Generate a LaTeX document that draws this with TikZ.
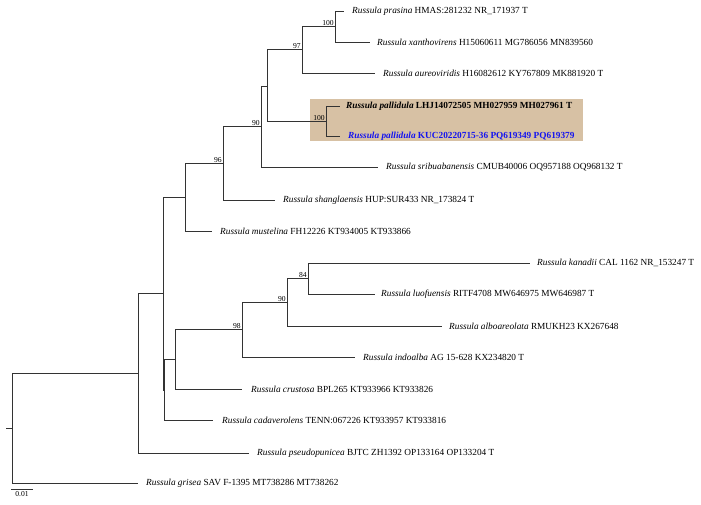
\documentclass[tikz,border=0pt]{standalone}
\usepackage{fontspec}
\setmainfont{Liberation Serif}
\usetikzlibrary{positioning}
\definecolor{pallbox}{RGB}{215,193,164}
\definecolor{kucblue}{RGB}{20,20,240}

\begin{document}
\begin{tikzpicture}[x=1pt,y=-1pt]
   \tikzstyle{branch}=[draw=black!80, line width=0.8pt]
   \tikzstyle{taxon}=[inner sep=0pt, font=\fontsize{9.3}{11}\selectfont]
   \tikzstyle{boot}=[inner sep=0.6pt, font=\fontsize{7.6}{9}\selectfont]

\useasboundingbox (0,0) rectangle (701,504);
\fill[pallbox] (310,99) rectangle (583,141);

% internal nodes
\coordinate (stub) at (6,428.5);
\coordinate (root) at (12,428.5);
\coordinate (nC) at (138,373);
\coordinate (nB) at (163,293.5);
\coordinate (nD) at (185,197);
\coordinate (n96) at (223,163);
\coordinate (n90) at (261,126.5);
\coordinate (nF) at (267,86);
\coordinate (n97) at (302,49);
\coordinate (nX) at (335,26);
\coordinate (nP) at (326,121);
\coordinate (nE) at (164.5,390);
\coordinate (nG) at (175,359.5);
\coordinate (n98) at (242,329.5);
\coordinate (n90b) at (287,302);
\coordinate (n84) at (308,278.5);

% tips
\coordinate (prasina) at (344,11);
\coordinate (xantho) at (370,42);
\coordinate (aureo) at (375,73);
\coordinate (pallLHJ) at (340,106);
\coordinate (pallKUC) at (340,136);
\coordinate (sribu) at (378,167);
\coordinate (shangla) at (275,200);
\coordinate (mustel) at (212,231);
\coordinate (kanadii) at (530,263);
\coordinate (luofu) at (375,294);
\coordinate (alboar) at (442,326);
\coordinate (indoal) at (355,357);
\coordinate (crusto) at (242,389);
\coordinate (cadave) at (213,420);
\coordinate (pseudo) at (249,453);
\coordinate (grisea) at (138,483.5);

\draw[branch] (stub) -- (root);
\draw[branch] (root) |- (nC) (root) |- (grisea);
\draw[branch] (nC) |- (nB) (nC) |- (pseudo);
\draw[branch] (nB) |- (nD) (nB) |- (nE);
\draw[branch] (nD) |- (n96) (nD) |- (mustel);
\draw[branch] (n96) |- (n90) (n96) |- (shangla);
\draw[branch] (n90) |- (nF) (n90) |- (sribu);
\draw[branch] (nF) |- (n97) (nF) |- (nP);
\draw[branch] (n97) |- (nX) (n97) |- (aureo);
\draw[branch] (nX) |- (prasina) (nX) |- (xantho);
\draw[branch] (nP) |- (pallLHJ) (nP) |- (pallKUC);
\draw[branch] (nE) |- (nG) (nE) |- (cadave);
\draw[branch] (nG) |- (n98) (nG) |- (crusto);
\draw[branch] (n98) |- (n90b) (n98) |- (indoal);
\draw[branch] (n90b) |- (n84) (n90b) |- (alboar);
\draw[branch] (n84) |- (kanadii) (n84) |- (luofu);

% bootstrap values
\node[boot, above left=0pt and 0.5pt of nX] (bX) {100};
\node[boot, above left=0pt and 0.5pt of n97] (b97) {97};
\node[boot, above left=0pt and 0.5pt of n90] (b90) {90};
\node[boot, above left=0pt and 0.5pt of n96] (b96) {96};
\node[boot, above left=0pt and 0.5pt of nP] (bP) {100};
\node[boot, above left=0pt and 0.5pt of n84] (b84) {84};
\node[boot, above left=0pt and 0.5pt of n90b] (b90b) {90};
\node[boot, above left=0pt and 0.5pt of n98] (b98) {98};

% taxon labels
\node[taxon, right=8pt of prasina] (lprasina) {\textit{Russula prasina} HMAS:281232 NR\_171937 T};
\node[taxon, right=7pt of xantho] (lxantho) {\textit{Russula xanthovirens} H15060611 MG786056 MN839560};
\node[taxon, right=8pt of aureo] (laureo) {\textit{Russula aureoviridis} H16082612 KY767809 MK881920 T};
\node[taxon, right=6pt of pallLHJ] (lpallLHJ) {\textbf{\textit{Russula pallidula} LHJ14072505 MH027959 MH027961 T}};
\node[taxon, right=8pt of pallKUC, text=kucblue] (lpallKUC) {\textbf{\textit{Russula pallidula} KUC20220715-36 PQ619349 PQ619379}};
\node[taxon, right=8pt of sribu] (lsribu) {\textit{Russula sribuabanensis} CMUB40006 OQ957188 OQ968132 T};
\node[taxon, right=8pt of shangla] (lshangla) {\textit{Russula shanglaensis} HUP:SUR433 NR\_173824 T};
\node[taxon, right=8pt of mustel] (lmustel) {\textit{Russula mustelina} FH12226 KT934005 KT933866};
\node[taxon, right=7pt of kanadii] (lkanadii) {\textit{Russula kanadii} CAL 1162 NR\_153247 T};
\node[taxon, right=6pt of luofu] (lluofu) {\textit{Russula luofuensis} RITF4708 MW646975 MW646987 T};
\node[taxon, right=7pt of alboar] (lalboar) {\textit{Russula alboareolata} RMUKH23 KX267648};
\node[taxon, right=8pt of indoal] (lindoal) {\textit{Russula indoalba} AG 15-628 KX234820 T};
\node[taxon, right=9pt of crusto] (lcrusto) {\textit{Russula crustosa} BPL265 KT933966 KT933826};
\node[taxon, right=9pt of cadave] (lcadave) {\textit{Russula cadaverolens} TENN:067226 KT933957 KT933816};
\node[taxon, right=8pt of pseudo] (lpseudo) {\textit{Russula pseudopunicea} BJTC ZH1392 OP133164 OP133204 T};
\node[taxon, right=8pt of grisea] (lgrisea) {\textit{Russula grisea} SAV F-1395 MT738286 MT738262};

% scale bar
\coordinate (sb1) at (11,489);
\coordinate (sb2) at (33,489);
\coordinate (sbmid) at (22,489);
\draw[branch] (sb1) -- (sb2);
\node[boot, below=1.5pt of sbmid] (sblabel) {0.01};

\end{tikzpicture}
\end{document}
